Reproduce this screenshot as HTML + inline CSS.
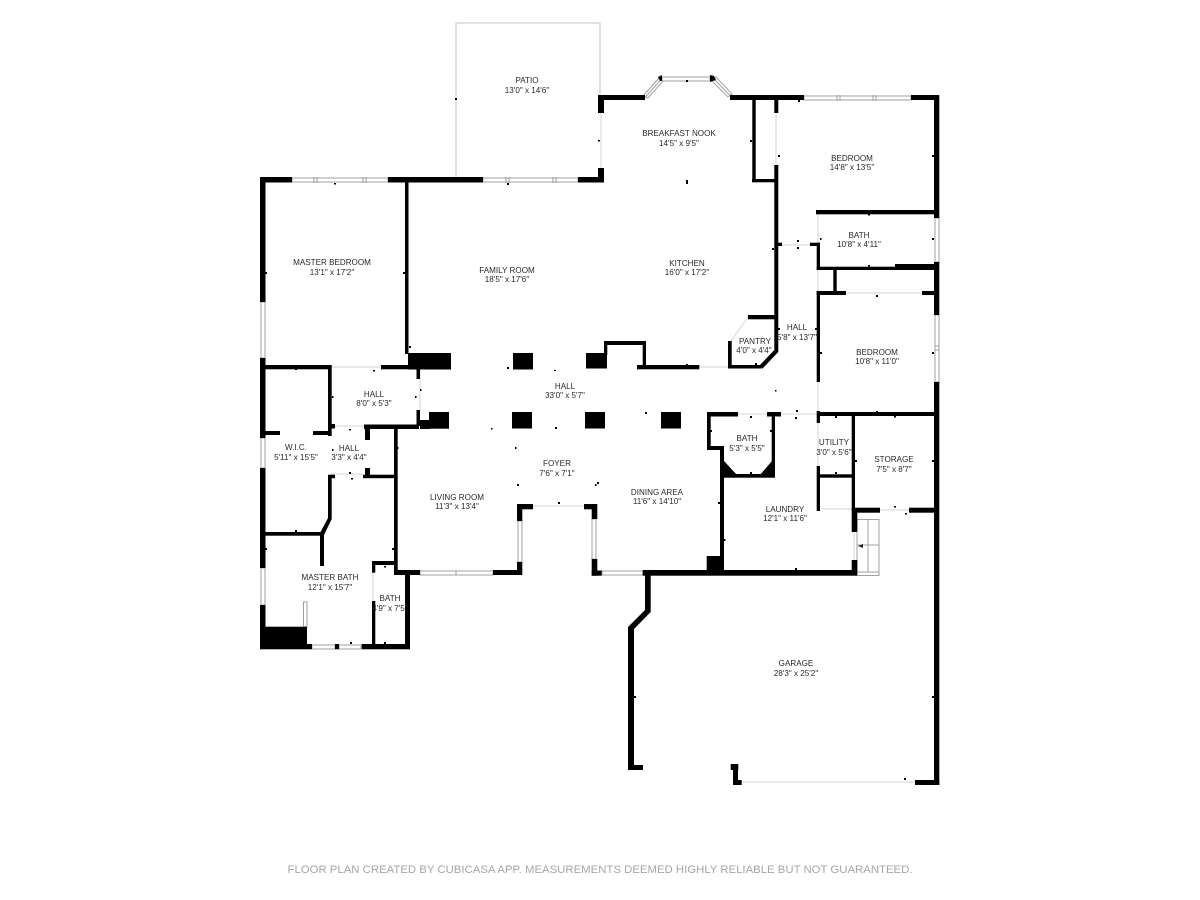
<!DOCTYPE html>
<html><head><meta charset="utf-8"><style>
html,body{margin:0;padding:0;background:#fff}
svg{display:block}
text{font-family:"Liberation Sans",sans-serif;font-size:8.1px;fill:#2a2a2a;text-anchor:middle}
.w{fill:#fff;stroke:#a0a0a0;stroke-width:1}
.l{stroke:#a0a0a0;stroke-width:1;fill:none}
.d{stroke:#e2e2e2;stroke-width:1.5;fill:none}
.f{font-size:11px;fill:#a6a6a6}
</style></head><body>
<svg width="1200" height="900" viewBox="0 0 1200 900" xmlns="http://www.w3.org/2000/svg">
<rect width="1200" height="900" fill="#fff"/>
<!-- patio -->
<path d="M456 177V23H600V96" fill="none" stroke="#c4c4c4" stroke-width="1"/>
<!-- windows -->
<g>
<rect class="w" x="292" y="178" width="96" height="4"/><path class="l" d="M314 177v6M317 177v6M363 177v6M366 177v6"/>
<rect class="w" x="483" y="178" width="95" height="4"/><path class="l" d="M506 177v6M509 177v6M553 177v6M556 177v6"/>
<rect class="w" x="261" y="302" width="4" height="56"/>
<rect class="w" x="261" y="438" width="4" height="30"/>
<rect class="w" x="261" y="568" width="4" height="37"/>
<rect class="w" x="420" y="571" width="73" height="4"/><path class="l" d="M456 570v5"/>
<rect class="w" x="518" y="521" width="4" height="41"/>
<rect class="w" x="592" y="519" width="4" height="40"/>
<rect class="w" x="602" y="571" width="41" height="4"/>
<rect class="w" x="312" y="645" width="23" height="4"/><rect class="w" x="339" y="645" width="22" height="4"/>
<rect class="w" x="303.5" y="602" width="3.5" height="25"/>
<rect class="w" x="662" y="77" width="48" height="4"/>
<path class="w" d="M643 96L659 78 663 81 648 98Z"/><path class="l" d="M645.5 97L661 79.5"/>
<path class="w" d="M711 80L716 77 732 94 728 97Z"/><path class="l" d="M713.5 78.5L730 95.5"/>
<rect class="w" x="804" y="96" width="107" height="4"/><path class="l" d="M837 95v6M840 95v6M873 95v6M876 95v6"/>
<rect class="w" x="935" y="218" width="4" height="44"/>
<rect class="w" x="935" y="315" width="4" height="67"/><path class="l" d="M935 346h4M935 350h4"/>
<!-- doors / openings -->
<path class="d" d="M601 113V168M776 113V165M818 214V243M818 270V292M846 293H922M781 245H811M748 317L731 341M637 367H728M420 369V410M331 367H381M335 426H364M331 474H363M533 506H584M373 572V601M738 414H767M781 414H817M818 382V412M818 423V466M822 509H852M854 532V560M880 510H909M742 782H915"/>
<!-- steps -->
<rect class="w" x="857" y="519.5" width="22" height="56"/>
<path class="l" d="M868 520V572M857 545H879M857 572H879"/>
<path d="M858 546l5-2v4z" fill="#222"/>
</g>
<!-- walls -->
<g fill="#000">
<!-- master bedroom -->
<rect x="260" y="177" width="32" height="5.5"/>
<rect x="388" y="177" width="95" height="5.5"/>
<rect x="578" y="177" width="26" height="5.5"/>
<rect x="260" y="177" width="5.5" height="125"/>
<rect x="260" y="358" width="5.5" height="80"/>
<rect x="260" y="468" width="5.5" height="100"/>
<rect x="260" y="605" width="5.5" height="44"/>
<rect x="405" y="182" width="3.5" height="172"/>
<rect x="408" y="353" width="43" height="16.5"/>
<rect x="265" y="365" width="63" height="4.3"/>
<rect x="381" y="365" width="39" height="4.3"/>
<rect x="416.5" y="367" width="3.5" height="12"/>
<rect x="328" y="365" width="3.7" height="60"/>
<rect x="265" y="431" width="15" height="4"/>
<rect x="313" y="431" width="15" height="4"/>
<rect x="328" y="424" width="7" height="4.5"/>
<rect x="328" y="428" width="3.7" height="8"/>
<rect x="364" y="424.5" width="55" height="4.5"/>
<rect x="416.5" y="410" width="3.5" height="16"/>
<rect x="420" y="420" width="10" height="9"/>
<rect x="429" y="412" width="20" height="16.7"/>
<rect x="365" y="429" width="5" height="11"/>
<rect x="365" y="468" width="5" height="8"/>
<rect x="363" y="474.7" width="34" height="3.5"/>
<rect x="328" y="474.7" width="7" height="3.5"/>
<rect x="328" y="476" width="3.7" height="43"/>
<polygon points="328,518 331.7,519 324,535 320,533"/>
<rect x="265" y="532" width="57" height="3.7"/>
<rect x="320" y="533" width="4" height="33"/>
<rect x="394" y="429" width="3.7" height="145"/>
<rect x="394" y="570" width="26" height="5"/>
<rect x="493" y="570" width="29" height="5"/>
<rect x="517" y="504" width="5.3" height="17"/>
<rect x="517" y="562" width="5.3" height="13"/>
<rect x="517" y="504" width="16" height="5.3"/>
<rect x="584" y="504" width="13" height="5.3"/>
<rect x="591.7" y="504" width="5.6" height="15"/>
<rect x="591.7" y="559" width="5.6" height="16.7"/>
<rect x="591.7" y="570.5" width="10" height="5.2"/>
<!-- bath -->
<rect x="372" y="561" width="22" height="4"/>
<rect x="372" y="561" width="3.3" height="11.7"/>
<rect x="372" y="601" width="3.3" height="47"/>
<rect x="405" y="574" width="5" height="75"/>
<rect x="361.7" y="644" width="48.3" height="5.3"/>
<rect x="260" y="626.7" width="47" height="22.6"/>
<rect x="307" y="644" width="5" height="5.3"/>
<rect x="335" y="644" width="4" height="5.3"/>
<!-- top right -->
<rect x="598" y="95" width="47" height="5"/>
<rect x="598" y="95" width="6" height="18"/>
<rect x="598" y="168" width="6" height="14"/>
<rect x="730" y="95" width="74" height="5"/>
<rect x="911" y="95" width="28" height="5"/>
<rect x="934" y="95" width="5.3" height="123"/>
<rect x="934" y="262" width="5.3" height="53"/>
<rect x="934" y="382" width="5.3" height="403"/>
<polygon points="658,77 662,75 662,81 660,81"/>
<polygon points="710,75 714,76 716,80 710,82"/>
<rect x="752.3" y="100" width="3.4" height="82"/>
<rect x="752" y="179" width="25" height="3.3"/>
<rect x="774.3" y="100" width="4" height="13"/>
<rect x="774.3" y="165" width="4" height="187"/>
<rect x="748" y="315" width="27" height="4.3"/>
<polygon points="774.3,350 778.3,352 762,369 760,365"/>
<rect x="728" y="365" width="33" height="3.5"/>
<rect x="728" y="341" width="3.7" height="27"/>
<rect x="778" y="242.7" width="4" height="3.3"/>
<rect x="810" y="242.7" width="10" height="3.3"/>
<rect x="816.7" y="242.7" width="3.3" height="27"/>
<rect x="816" y="210" width="118" height="4.3"/>
<rect x="816.7" y="266.7" width="79" height="3.3"/>
<rect x="895" y="264" width="39" height="6"/>
<rect x="833.3" y="270" width="3.4" height="22"/>
<rect x="816.7" y="291" width="29.3" height="4"/>
<rect x="922" y="291" width="12" height="4"/>
<rect x="816.7" y="291" width="3.3" height="91"/>
<!-- kitchen lower -->
<rect x="637" y="365" width="62.3" height="4.3"/>
<rect x="642.7" y="341" width="3.3" height="27"/>
<rect x="605" y="341" width="41" height="4"/>
<rect x="604" y="341" width="3.3" height="14"/>
<rect x="586" y="353" width="21" height="15.5"/>
<!-- columns -->
<rect x="513" y="353" width="20" height="16.5"/>
<rect x="512" y="412" width="20" height="16.5"/>
<rect x="585" y="412" width="20" height="16.5"/>
<rect x="661" y="412" width="20" height="16.5"/>
<!-- bath hall -->
<rect x="707" y="412" width="31" height="4.5"/>
<rect x="767" y="412" width="14" height="4.5"/>
<rect x="817" y="412" width="117" height="4"/>
<rect x="707" y="412" width="3.7" height="37.5"/>
<rect x="707" y="446" width="17" height="4"/>
<rect x="720" y="447" width="4" height="124"/>
<rect x="771.7" y="415" width="3.3" height="62"/>
<rect x="720" y="474" width="55" height="3.7"/>
<polygon points="724,461 737,475 724,475"/>
<polygon points="772,461 760,475 772,475"/>
<rect x="816.7" y="411" width="3.3" height="12"/>
<rect x="816.7" y="466" width="3.3" height="45"/>
<rect x="820" y="474.3" width="32" height="3.4"/>
<rect x="851.7" y="416" width="3.3" height="95"/>
<rect x="851.7" y="508" width="5.6" height="24"/>
<rect x="851.7" y="560" width="5.6" height="15"/>
<rect x="852" y="507.7" width="28" height="5"/>
<rect x="909" y="507.7" width="25" height="5"/>
<rect x="642.7" y="570" width="214.3" height="5.7"/>
<rect x="706.7" y="556" width="17.3" height="15"/>
<!-- garage -->
<polygon points="645,575 650.7,575 650.7,612 634,629 634,770 628,770 628,627 645,610"/>
<rect x="628" y="765" width="15" height="5"/>
<rect x="730.7" y="764" width="7.6" height="6"/>
<rect x="733" y="768" width="5" height="15"/>
<rect x="733" y="780" width="8.7" height="5"/>
<rect x="915" y="780" width="24.3" height="5"/>
<!-- ticks -->
<g>
<rect x="265" y="272" width="2" height="2"/><rect x="403" y="272" width="2" height="2"/><rect x="334" y="183" width="2" height="1.5"/><rect x="507" y="183" width="2" height="2"/><rect x="409" y="346" width="2" height="2"/><rect x="507" y="367" width="2" height="2"/><rect x="554" y="370" width="2" height="1"/><rect x="420" y="389" width="1.5" height="2"/><rect x="415" y="396" width="1.5" height="2"/><rect x="332" y="396" width="1.5" height="2"/><rect x="373" y="370" width="2" height="1.5"/><rect x="295" y="369" width="2" height="1"/>
<rect x="349" y="429" width="2" height="1.5"/><rect x="332" y="449" width="1.5" height="2"/><rect x="349" y="472" width="2" height="2"/><rect x="351" y="478" width="2" height="1.5"/><rect x="397" y="447" width="1.5" height="2"/><rect x="392" y="548" width="2" height="2"/><rect x="295" y="530" width="2" height="2"/><rect x="265" y="548" width="2" height="2"/><rect x="384" y="566" width="2" height="1.5"/><rect x="384" y="642" width="2" height="2"/><rect x="350" y="642" width="2" height="2"/><rect x="491" y="428" width="1.5" height="1.5"/><rect x="515" y="447" width="1.5" height="2"/><rect x="517" y="484" width="2" height="2"/><rect x="595" y="484" width="1.5" height="2"/><rect x="558" y="502" width="2" height="2"/><rect x="555" y="427" width="2" height="2"/>
<rect x="686" y="180" width="2" height="4"/><rect x="686" y="80" width="2" height="2"/><rect x="598" y="140" width="2" height="1.5"/><rect x="750" y="140" width="2" height="2"/><rect x="798" y="100" width="2" height="2"/><rect x="778" y="155" width="2" height="2"/><rect x="932" y="155" width="2" height="2"/><rect x="868" y="214" width="2" height="1.5"/><rect x="820" y="238" width="1.5" height="2"/><rect x="932" y="238" width="2" height="2"/><rect x="868" y="265" width="2" height="1.5"/><rect x="797" y="240" width="2" height="2"/><rect x="797" y="247" width="2" height="2"/><rect x="772" y="248" width="2" height="2"/><rect x="778" y="328" width="2" height="2"/><rect x="815" y="328" width="2" height="2"/><rect x="820" y="352" width="2" height="2"/><rect x="932" y="352" width="2" height="2"/><rect x="876" y="295" width="2" height="2"/><rect x="686" y="364" width="2" height="2"/><rect x="755" y="363" width="2" height="2"/><rect x="775" y="390" width="1.5" height="1.5"/><rect x="645" y="412" width="2" height="2"/>
<rect x="750" y="416" width="2" height="2"/><rect x="710" y="430" width="2" height="2"/><rect x="770" y="430" width="2" height="2"/><rect x="750" y="472" width="2" height="2"/><rect x="796" y="410" width="2" height="2"/><rect x="795" y="417" width="2" height="2"/><rect x="835" y="416" width="2" height="2"/><rect x="835" y="472" width="2" height="2"/><rect x="855" y="460" width="2" height="2"/><rect x="932" y="460" width="2" height="2"/><rect x="876" y="411" width="2" height="2"/><rect x="894" y="416" width="2" height="1.5"/><rect x="894" y="506" width="2" height="1.5"/><rect x="905" y="513" width="2" height="1.5"/><rect x="718" y="502" width="2" height="2"/><rect x="597" y="482" width="2" height="2"/><rect x="724" y="539" width="1.5" height="2"/><rect x="795" y="568" width="2" height="2"/><rect x="634" y="696" width="2" height="2"/><rect x="932" y="696" width="2" height="2"/><rect x="904" y="778" width="2" height="2"/><rect x="455" y="98" width="2" height="2"/><rect x="598" y="98" width="2" height="2"/>
</g>
</g>
<!-- labels -->
<g>
<text x="527" y="83">PATIO</text><text x="527" y="93">13'0" x 14'6"</text>
<text x="679" y="136">BREAKFAST NOOK</text><text x="679" y="146">14'5" x 9'5"</text>
<text x="852" y="161">BEDROOM</text><text x="852" y="170">14'8" x 13'5"</text>
<text x="859" y="238">BATH</text><text x="859" y="247">10'8" x 4'11"</text>
<text x="332" y="265">MASTER BEDROOM</text><text x="332" y="275">13'1" x 17'2"</text>
<text x="507" y="273">FAMILY ROOM</text><text x="507" y="282">18'5" x 17'6"</text>
<text x="687" y="266">KITCHEN</text><text x="687" y="275">16'0" x 17'2"</text>
<text x="797" y="330">HALL</text><text x="797" y="340">5'8" x 13'7"</text>
<text x="755" y="344">PANTRY</text><text x="754" y="353">4'0" x 4'4"</text>
<text x="877" y="355">BEDROOM</text><text x="877" y="364">10'8" x 11'0"</text>
<text x="565" y="389">HALL</text><text x="565" y="398">33'0" x 5'7"</text>
<text x="374" y="397">HALL</text><text x="374" y="406">8'0" x 5'3"</text>
<text x="747" y="441">BATH</text><text x="747" y="451">5'3" x 5'5"</text>
<text x="834" y="445">UTILITY</text><text x="834" y="455">3'0" x 5'6"</text>
<text x="894" y="462">STORAGE</text><text x="894" y="472">7'5" x 8'7"</text>
<text x="296" y="450">W.I.C.</text><text x="296" y="460">5'11" x 15'5"</text>
<text x="349" y="451">HALL</text><text x="349" y="460">3'3" x 4'4"</text>
<text x="557" y="466">FOYER</text><text x="557" y="476">7'6" x 7'1"</text>
<text x="457" y="500">LIVING ROOM</text><text x="457" y="509">11'3" x 13'4"</text>
<text x="657" y="495">DINING AREA</text><text x="657" y="504">11'6" x 14'10"</text>
<text x="785" y="512">LAUNDRY</text><text x="785" y="521">12'1" x 11'6"</text>
<text x="330" y="580">MASTER BATH</text><text x="330" y="590">12'1" x 15'7"</text>
<text x="390" y="601">BATH</text><text x="390" y="611">4'9" x 7'5"</text>
<text x="796" y="666">GARAGE</text><text x="796" y="676">28'3" x 25'2"</text>
<text class="f" x="600" y="873" textLength="625" lengthAdjust="spacingAndGlyphs">FLOOR PLAN CREATED BY CUBICASA APP. MEASUREMENTS DEEMED HIGHLY RELIABLE BUT NOT GUARANTEED.</text>
</g>
</svg>
</body></html>
